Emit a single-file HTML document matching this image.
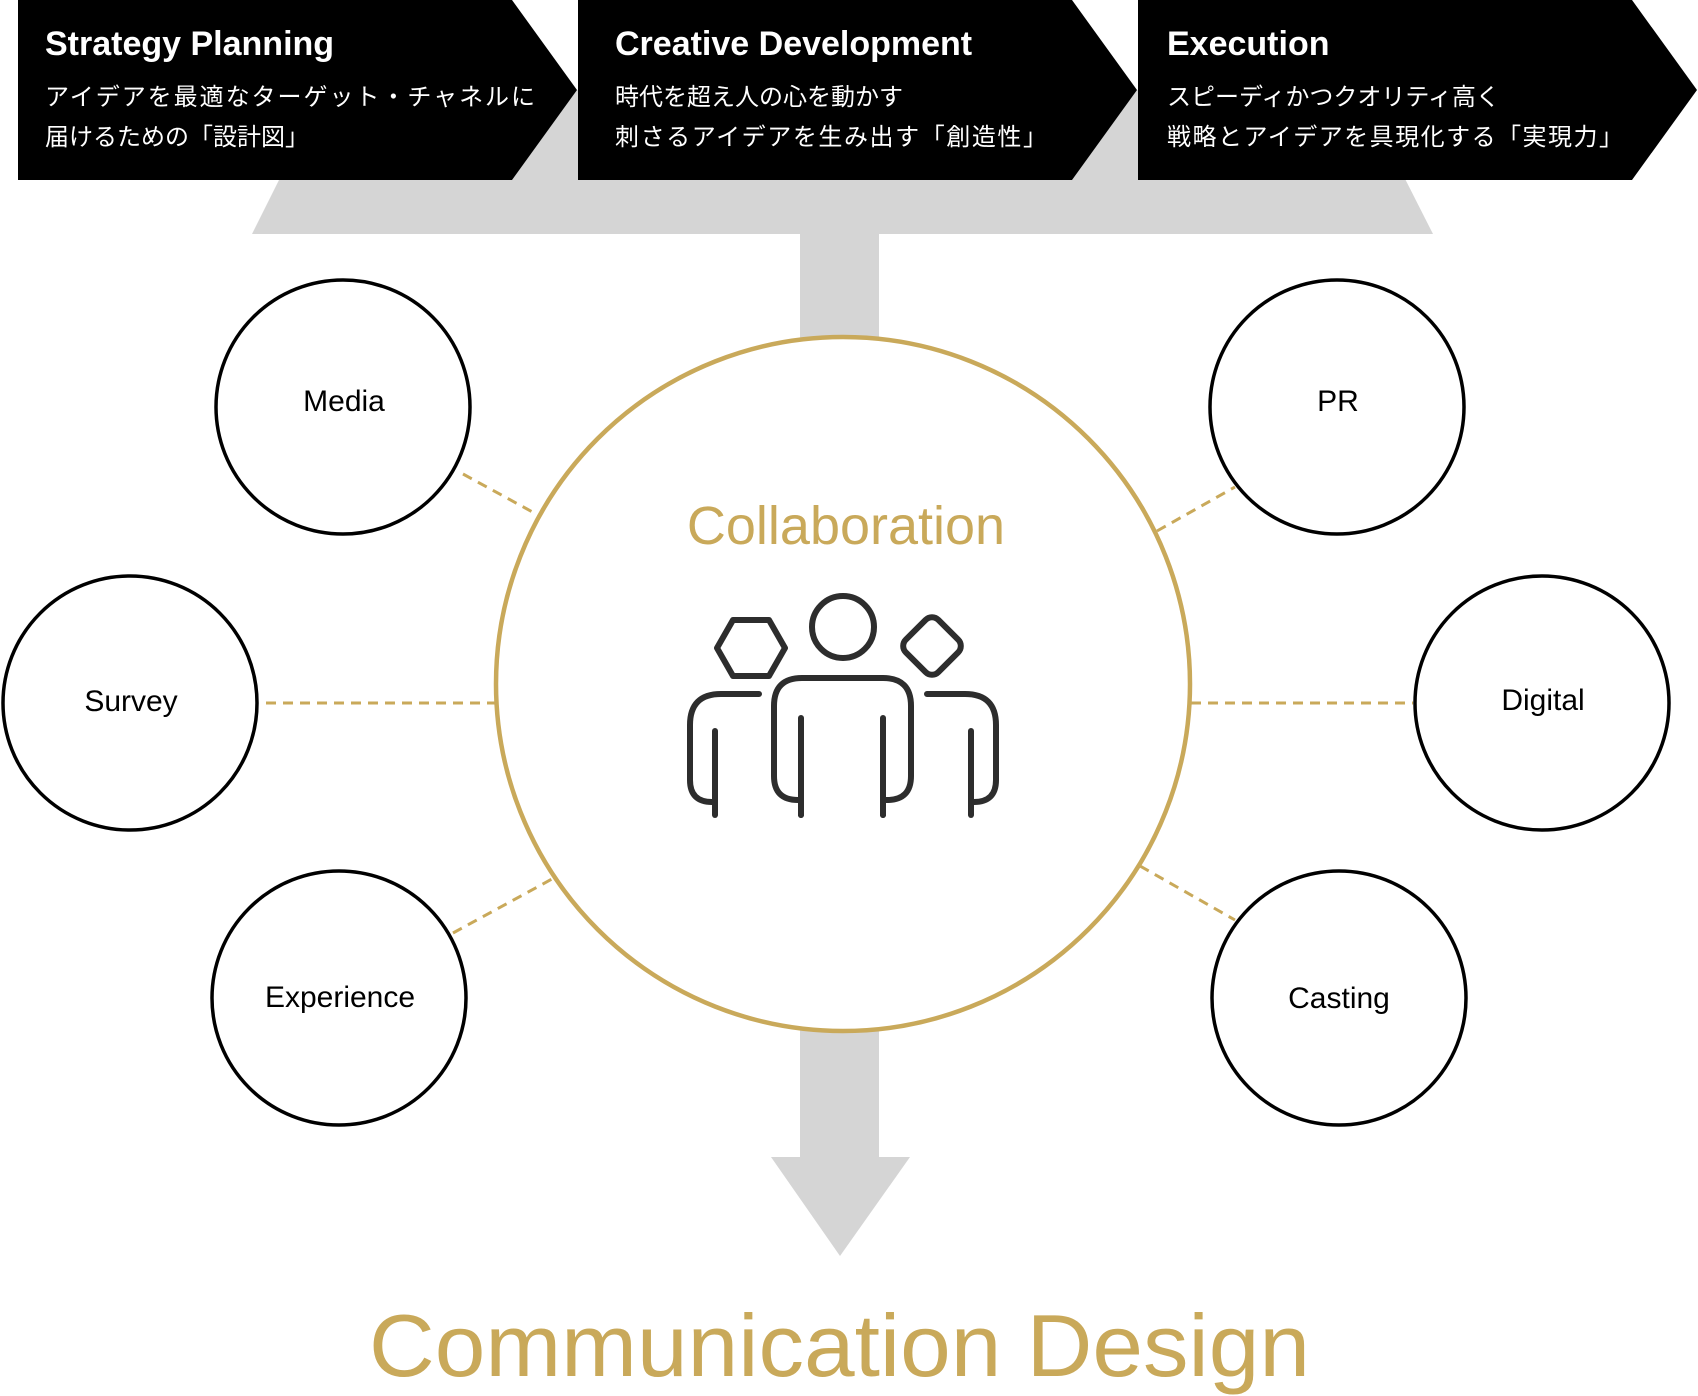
<!DOCTYPE html>
<html><head><meta charset="utf-8"><style>
html,body{margin:0;padding:0;background:#fff;}
svg{display:block;}
</style></head><body>
<svg width="1698" height="1396" viewBox="0 0 1698 1396" xmlns="http://www.w3.org/2000/svg">
<polygon points="324,90 1360,90 1433,234 252,234" fill="#d5d5d5"/>
<rect x="800" y="230" width="79" height="930" fill="#d5d5d5"/>
<polygon points="771,1157 910,1157 840,1256" fill="#d5d5d5"/>
<polygon points="18,0 512,0 577,90 512,180 18,180" fill="#000"/>
<polygon points="578,0 1072,0 1137,90 1072,180 578,180" fill="#000"/>
<polygon points="1138,0 1632,0 1697,90 1632,180 1138,180" fill="#000"/>
<g fill="#fff" font-family="Liberation Sans, sans-serif">
<text x="45" y="55" font-size="34" font-weight="bold">Strategy Planning</text>
<text x="615" y="55" font-size="34" font-weight="bold">Creative Development</text>
<text x="1167" y="55" font-size="34" font-weight="bold">Execution</text>
</g>
<g fill="#fff" font-family="Liberation Sans, 'Noto Sans CJK JP', sans-serif" font-size="24">
<text x="45" y="105" textLength="490">アイデアを最適なターゲット・チャネルに</text>
<text x="45" y="145">届けるための「設計図」</text>
<text x="615" y="105">時代を超え人の心を動かす</text>
<text x="615" y="145" textLength="432">刺さるアイデアを生み出す「創造性」</text>
<text x="1167" y="105">スピーディかつクオリティ高く</text>
<text x="1167" y="145" textLength="456">戦略とアイデアを具現化する「実現力」</text>
</g>
<g stroke="#c9a95a" stroke-width="3" stroke-dasharray="10,7">
<line x1="463" y1="474" x2="538" y2="515"/>
<line x1="1157" y1="531" x2="1235" y2="487"/>
<line x1="266" y1="703" x2="495" y2="703"/>
<line x1="1191" y1="703" x2="1413" y2="703"/>
<line x1="453" y1="933" x2="552" y2="879"/>
<line x1="1140" y1="866" x2="1235" y2="920"/>
</g>
<circle cx="843" cy="684" r="347" fill="#fff" stroke="#c9a95a" stroke-width="4.5"/>
<text x="846" y="544" text-anchor="middle" font-family="Liberation Sans, sans-serif" font-size="54" fill="#c9a95a">Collaboration</text>
<g fill="none" stroke="#2d2d2d" stroke-width="6" stroke-linecap="round" stroke-linejoin="round">
<polygon points="733,620 769,620 785,648 769,676 733,676 717,648"/>
<circle cx="843" cy="627" r="31"/>
<rect x="909" y="623" width="46" height="46" rx="9" transform="rotate(45 932 646)"/>
<path d="M801,815 V800 H798 Q774,800 774,776 V706 Q774,678 802,678 H883 Q911,678 911,706 V776 Q911,800 887,800 H883 V815"/>
<line x1="801" y1="718" x2="801" y2="815"/>
<line x1="883" y1="718" x2="883" y2="815"/>
<path d="M759,694 H721 Q690,694 690,725 V780 Q690,802 712,802 H715"/>
<line x1="715" y1="731" x2="715" y2="815"/>
<path d="M927,694 H965 Q996,694 996,725 V780 Q996,802 974,802 H971"/>
<line x1="971" y1="731" x2="971" y2="815"/>
</g>
<g fill="#fff" stroke="#000" stroke-width="3.5">
<circle cx="343" cy="407" r="127"/>
<circle cx="1337" cy="407" r="127"/>
<circle cx="130" cy="703" r="127"/>
<circle cx="1542" cy="703" r="127"/>
<circle cx="339" cy="998" r="127"/>
<circle cx="1339" cy="998" r="127"/>
</g>
<g font-family="Liberation Sans, sans-serif" font-size="30" fill="#000" text-anchor="middle">
<text x="344" y="411">Media</text>
<text x="1338" y="411">PR</text>
<text x="131" y="711">Survey</text>
<text x="1543" y="710">Digital</text>
<text x="340" y="1007">Experience</text>
<text x="1339" y="1008">Casting</text>
</g>
<text x="369" y="1376" font-family="Liberation Sans, sans-serif" font-size="88" fill="#c9a95a" textLength="941" lengthAdjust="spacingAndGlyphs">Communication Design</text>
</svg>
</body></html>
